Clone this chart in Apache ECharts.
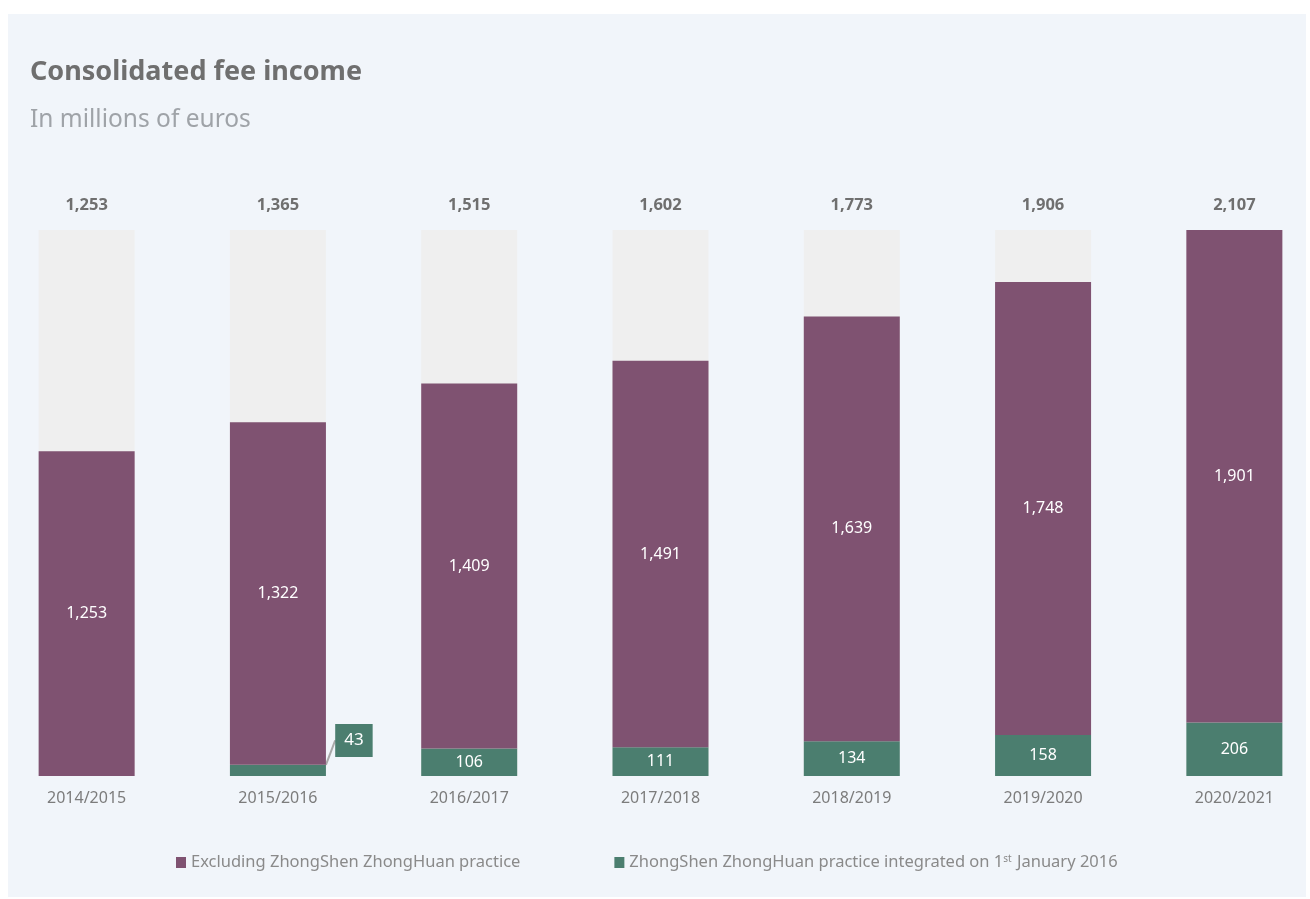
<!DOCTYPE html>
<html>
<head>
<meta charset="utf-8">
<title>Consolidated fee income</title>
<script src="https://cdn.jsdelivr.net/npm/echarts@6/dist/echarts.min.js"></script>
<style>
  html, body { margin: 0; padding: 0; background: #ffffff; overflow: hidden; }
  /* canvas is a little wider than the page so the outer columns sit close to the edges */
  #chart { position: absolute; left: -9px; top: 0; width: 1340px; height: 899px; }
</style>
</head>
<body>
<div id="chart"></div>
<script>
// Fiscal years
const years = ['2014/2015', '2015/2016', '2016/2017', '2017/2018', '2018/2019', '2019/2020', '2020/2021'];
// Fee income excluding the ZhongShen ZhongHuan practice (EUR millions)
const excluding = [1253, 1322, 1409, 1491, 1639, 1748, 1901];
// ZhongShen ZhongHuan practice, integrated 1 January 2016 (EUR millions)
const zhongshen = [0, 43, 106, 111, 134, 158, 206];
// Consolidated totals shown above each column
const totals = [1253, 1365, 1515, 1602, 1773, 1906, 2107];

const PURPLE = '#7f5271';
const GREEN = '#4b7e6f';
const COLUMN_BG = '#efefef';
const PANEL = '#f1f5fa';
const FONT = '"Noto Sans", "Open Sans", sans-serif';
const OX = 9; // horizontal offset of the canvas inside the page

const fmt = v => v.toLocaleString('en-US');
const axisMax = Math.max(...totals);

const chart = echarts.init(document.getElementById('chart'), null, { renderer: 'canvas' });

chart.setOption({
  animation: false,
  backgroundColor: '#ffffff',
  textStyle: { fontFamily: FONT },
  graphic: [
    { type: 'rect', z: -10, silent: true, shape: { x: 8 + OX, y: 14, width: 1298, height: 883 }, style: { fill: PANEL } },
    { type: 'text', left: 30 + OX, top: 59, style: { text: 'Consolidated fee income', fontFamily: FONT, fontSize: 27, fontWeight: 'bold', fill: '#6f6f6f' } },
    { type: 'text', left: 30 + OX, top: 108, style: { text: 'In millions of euros', fontFamily: FONT, fontSize: 24.5, fill: '#9fa3a8' } }
  ],
  legend: {
    left: 171 + OX,
    top: 849,
    itemWidth: 10,
    itemHeight: 11,
    itemGap: 94,
    icon: 'rect',
    textStyle: {
      fontFamily: FONT, fontSize: 16.5, color: '#8a8a8a',
      rich: { sup: { fontSize: 10, color: '#8a8a8a', verticalAlign: 'top', padding: [0, 1, 7, 0] } }
    },
    data: ['Excluding ZhongShen ZhongHuan practice', 'ZhongShen ZhongHuan practice integrated on 1st January 2016'],
    formatter: name => name.replace('1st', '1{sup|st}')
  },
  grid: { left: 0, width: 1339, top: 230, height: 546, containLabel: false, outerBoundsMode: 'none' },
  xAxis: {
    type: 'category',
    data: years,
    axisLine: { show: false },
    axisTick: { show: false },
    axisLabel: { color: '#7c7c7c', fontSize: 16, margin: 14, fontFamily: FONT }
  },
  yAxis: {
    type: 'value',
    min: 0,
    max: axisMax,
    show: false,
    splitLine: { show: false }
  },
  series: [
    {
      // light column behind each stack, carries the total above it
      name: 'total',
      type: 'bar',
      barWidth: 96,
      barGap: '-100%',
      silent: true,
      z: 1,
      itemStyle: { color: COLUMN_BG },
      data: totals.map(() => axisMax),
      label: {
        show: true,
        position: 'top',
        distance: 16,
        formatter: p => fmt(totals[p.dataIndex]),
        color: '#6f6f6f',
        fontSize: 16.5,
        fontWeight: 'bold',
        fontFamily: FONT
      }
    },
    {
      name: 'ZhongShen ZhongHuan practice integrated on 1st January 2016',
      type: 'bar',
      stack: 'fees',
      barWidth: 96,
      z: 3,
      itemStyle: { color: GREEN },
      data: zhongshen.map((v, i) => i === 1 ? {
        value: v,
        // the thin 2015/2016 segment gets its value in a boxed callout beside the bar
        label: { backgroundColor: GREEN, padding: [8, 9, 8, 9], fontSize: 17 }
      } : v),
      label: {
        show: true,
        position: 'inside',
        formatter: p => (p.value > 0 ? fmt(p.value) : ''),
        color: '#ffffff',
        fontSize: 16,
        fontFamily: FONT
      },
      labelLayout: p => (p.dataIndex === 1 ? { dx: 76, dy: -30 } : {}),
      labelLine: { show: true, lineStyle: { color: '#a9a9a9', width: 2 } },
      emphasis: { disabled: true }
    },
    {
      name: 'Excluding ZhongShen ZhongHuan practice',
      type: 'bar',
      stack: 'fees',
      barWidth: 96,
      z: 3,
      itemStyle: { color: PURPLE },
      data: excluding,
      label: {
        show: true,
        position: 'inside',
        formatter: p => fmt(p.value),
        color: '#ffffff',
        fontSize: 16,
        fontFamily: FONT
      }
    }
  ]
});
</script>
</body>
</html>
